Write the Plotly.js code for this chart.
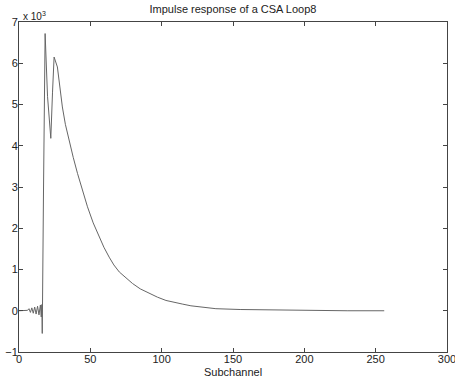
<!DOCTYPE html>
<html>
<head>
<meta charset="utf-8">
<script src="https://cdn.plot.ly/plotly-3.0.1.min.js"></script>
<style>html,body{margin:0;padding:0;background:#fff;}#chart{width:455px;height:378px;}</style>
</head>
<body>
<div id="chart"></div>
<script>
// Subchannel index and response value (in units of 10^3)
const subchannel = [0, 6, 7, 8, 9, 10, 11, 12, 13, 14, 15, 15.6, 16, 16.3, 17.2, 18.3, 20, 22.3, 23.5, 24.6, 26.9, 28.5, 30.4, 32.5, 35.1, 38, 41, 44.5, 48, 52, 56.2, 59.5, 63.2, 66.5, 70.3, 75, 79.6, 85, 91.4, 97, 103, 108.5, 114.8, 120.5, 126.5, 138, 155, 175, 200, 230, 256];
const response   = [0, 0.01, 0.05, -0.04, 0.07, -0.06, 0.09, -0.08, 0.11, -0.1, 0.14, -0.15, 0.15, -0.55, 3.0, 6.72, 5.2, 4.18, 5.3, 6.15, 5.91, 5.45, 4.94, 4.52, 4.13, 3.72, 3.33, 2.9, 2.52, 2.13, 1.79, 1.54, 1.30, 1.11, 0.94, 0.79, 0.66, 0.53, 0.42, 0.33, 0.25, 0.2, 0.16, 0.12, 0.09, 0.05, 0.03, 0.02, 0.01, 0.0, 0.0];
const titleText = "Impulse response of a CSA Loop8";
const xLabel = "Subchannel";

const font = {family: "Liberation Sans, Arial, sans-serif", size: 11, color: "#222"};
Plotly.newPlot("chart", [{
  x: subchannel, y: response, type: "scatter", mode: "lines",
  line: {color: "#666", width: 1}, hoverinfo: "skip"
}], {
  width: 455, height: 378,
  margin: {l: 19, r: 8, t: 22, b: 26},
  paper_bgcolor: "#fff", plot_bgcolor: "#fff",
  showlegend: false,
  font: font,
  title: {text: titleText, font: {family: font.family, size: 11, color: "#222"}, x: 0.5, xref: "paper", y: 0.985, yanchor: "top"},
  xaxis: {
    range: [0, 300], dtick: 50, tick0: 0, ticks: "inside", ticklen: 4, tickcolor: "#444",
    showgrid: false, zeroline: false, showline: true, linecolor: "#444", linewidth: 1, mirror: "ticks",
    tickfont: font, automargin: false, ticklabeloverflow: "allow", ticklabelstandoff: -3
  },
  yaxis: {
    range: [-1, 7], dtick: 1, tick0: 0, ticks: "inside", ticklen: 4, tickcolor: "#444",
    showgrid: false, zeroline: false, showline: true, linecolor: "#444", linewidth: 1, mirror: "ticks",
    tickfont: font, automargin: false, ticklabeloverflow: "allow", ticklabelstandoff: -2
  },
  annotations: [{
    xref: "paper", yref: "paper", x: 0, y: 1, xanchor: "left", yanchor: "bottom",
    text: "x 10<sup>3</sup>", showarrow: false, font: {family: font.family, size: 10, color: "#222"}, yshift: -2, xshift: 2
  }, {
    xref: "paper", yref: "paper", x: 0.5, y: 0, xanchor: "center", yanchor: "top",
    text: xLabel, showarrow: false, font: font, yshift: -12
  }]
}, {displayModeBar: false, staticPlot: true});
</script>
</body>
</html>
